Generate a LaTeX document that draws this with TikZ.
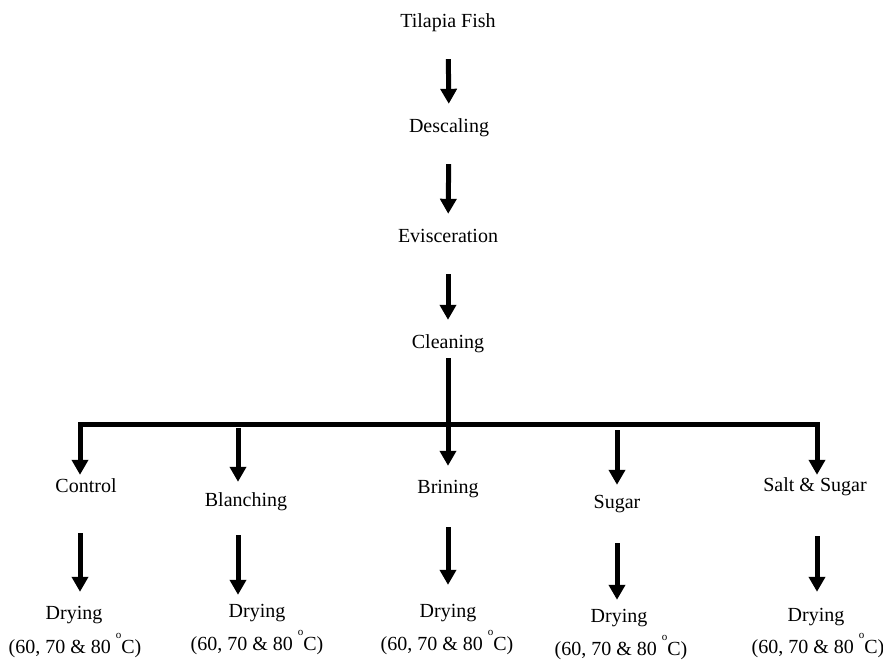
\documentclass[tikz,border=0pt]{standalone}
\usepackage{fontspec}
\setmainfont{Liberation Serif}
\usetikzlibrary{arrows.meta}
\newcommand{\degsup}{\raisebox{0.72em}{\fontsize{11}{11}\selectfont o}}

\begin{document}
\begin{tikzpicture}[x=1pt,y=-1pt]
  \tikzset{lbl/.style = {inner sep=0pt,text height=14pt,text depth=4pt,font=\fontsize{20}{24}\selectfont}}
  \tikzset{flow/.style = {-{Triangle[width=16pt,length=15pt]},line width=5pt}}

  \useasboundingbox (0,0) rectangle (883,659);

	\node[lbl] (fish) at (448,22) {Tilapia Fish};
	\node[lbl] (desc) at (449,127) {Descaling};
	\node[lbl] (evis) at (448,237) {Evisceration};
	\node[lbl] (clean) at (448,343) {Cleaning};

	\node[lbl] (ctrl) at (86,487) {Control};
	\node[lbl] (blan) at (246,501) {Blanching};
	\node[lbl] (brin) at (448,488) {Brining};
	\node[lbl] (sug) at (617,503) {Sugar};
	\node[lbl] (salt) at (815,486) {Salt \& Sugar};

	\node[lbl] (dry1) at (74,614) {Drying};
	\node[lbl] (dry2) at (257,612) {Drying};
	\node[lbl] (dry3) at (448,612) {Drying};
	\node[lbl] (dry4) at (619,617) {Drying};
	\node[lbl] (dry5) at (816,616) {Drying};

	\node[lbl] (tmp1) at (75,648) {(60, 70 \& 80 \degsup{}C)};
	\node[lbl] (tmp2) at (257,645) {(60, 70 \& 80 \degsup{}C)};
	\node[lbl] (tmp3) at (447,645) {(60, 70 \& 80 \degsup{}C)};
	\node[lbl] (tmp4) at (621,650) {(60, 70 \& 80 \degsup{}C)};
	\node[lbl] (tmp5) at (818,648) {(60, 70 \& 80 \degsup{}C)};

	\coordinate (jn) at (448,424);
	\coordinate (cN) at (80,424);
	\coordinate (sN) at (817,424);
	\coordinate (bN) at (238,428);
	\coordinate (gN) at (617,430);

       \foreach \from/\to in {fish/desc, desc/evis, evis/clean}
    \draw[flow,shorten <=28pt,shorten >=14pt] (\from) -- (\to);

	\draw[flow,shorten <=6pt,shorten >=13pt] (clean) -- (brin);
	\draw[flow,shorten >=3pt] (jn) -| (cN |- ctrl.north);
	\draw[flow,shorten >=2pt] (jn) -| (sN |- salt.north);
	\draw[flow,shorten >=10pt] (bN) -- (bN |- blan.north);
	\draw[flow,shorten >=9pt] (gN) -- (gN |- sug.north);

       \foreach \c/\from/\to/\gs/\gt in {cN/ctrl/dry1/37/13, bN/blan/dry2/25/8, jn/brin/dry3/30/18, gN/sug/dry4/31/8, sN/salt/dry5/41/15}
    \draw[flow,shorten <=\gs pt,shorten >=\gt pt] (\c |- \from.south) -- (\c |- \to.north);
\end{tikzpicture}
\end{document}
